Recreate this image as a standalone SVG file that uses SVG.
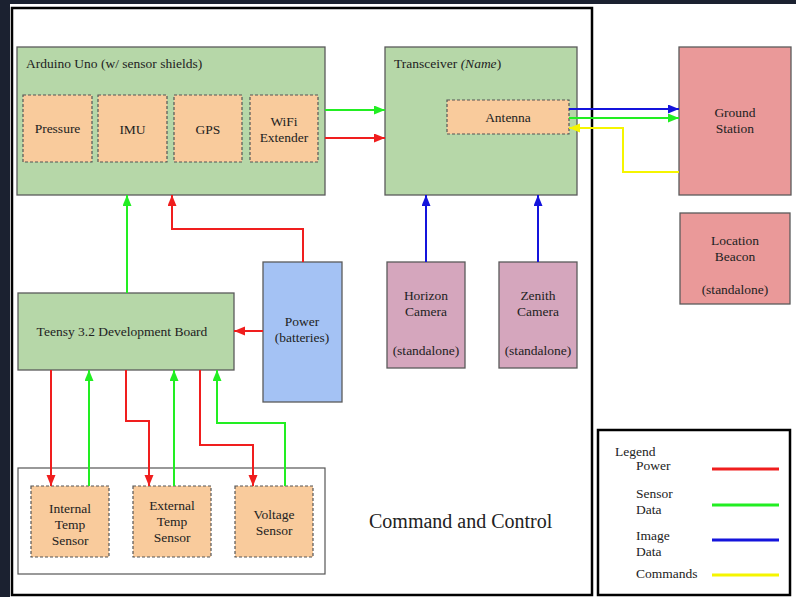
<svg xmlns="http://www.w3.org/2000/svg" width="796" height="597" viewBox="0 0 796 597" font-family="'Liberation Serif','Times New Roman',serif" font-size="13.5">
<style>
text{font-family:"Liberation Serif","Times New Roman",serif;font-size:13.5px;fill:#222;}
.c{text-anchor:middle;}
.node{stroke:#5b5b5b;stroke-width:1.3;}
.grn{fill:#b6d7a8;}
.org{fill:#f9cb9c;stroke:#555;stroke-width:1.2;stroke-dasharray:3,2;}
.pur{fill:#d5a6bd;}
.pink{fill:#ea9999;}
.blu{fill:#a4c2f4;}
.frame{fill:none;stroke:#000;stroke-width:2.5;}
.conn{fill:none;stroke-width:2;}
.r{stroke:#f01e1e;}
.g{stroke:#22ee22;}
.b{stroke:#1414dc;}
.y{stroke:#f5f500;}
.leg{stroke-width:3;}
</style>
<defs>
<marker id="ar" markerUnits="userSpaceOnUse" markerWidth="12" markerHeight="10" refX="11" refY="4.5" orient="auto"><path d="M0,0L11,4.5L0,9z" fill="#f01e1e"/></marker>
<marker id="ag" markerUnits="userSpaceOnUse" markerWidth="12" markerHeight="10" refX="11" refY="4.5" orient="auto"><path d="M0,0L11,4.5L0,9z" fill="#22ee22"/></marker>
<marker id="ab" markerUnits="userSpaceOnUse" markerWidth="12" markerHeight="10" refX="11" refY="4.5" orient="auto"><path d="M0,0L11,4.5L0,9z" fill="#1414dc"/></marker>
<marker id="ay" markerUnits="userSpaceOnUse" markerWidth="12" markerHeight="10" refX="11" refY="4.5" orient="auto"><path d="M0,0L11,4.5L0,9z" fill="#f5f500"/></marker>
</defs>
<rect x="0" y="0" width="796" height="597" fill="#1b2130"/>
<rect x="10" y="4" width="786" height="593" fill="#fff"/>
<rect class="frame" x="12" y="8" width="580" height="587"/>

<g id="arduino">
<rect class="node grn" x="17" y="47" width="308" height="148"/>
<text x="26" y="68">Arduino Uno (w/ sensor shields)</text>
</g>
<g id="pressure"><rect class="org" x="23" y="95" width="69" height="67"/><text class="c" x="57.5" y="133">Pressure</text></g>
<g id="imu"><rect class="org" x="98" y="95" width="69" height="67"/><text class="c" x="132.5" y="134">IMU</text></g>
<g id="gps"><rect class="org" x="174" y="95" width="68" height="67"/><text class="c" x="208" y="134">GPS</text></g>
<g id="wifi"><rect class="org" x="250" y="95" width="68" height="67"/><text class="c" x="284" y="126">WiFi</text><text class="c" x="284" y="142">Extender</text></g>

<g id="transceiver">
<rect class="node grn" x="385" y="47" width="192" height="148"/>
<text x="394" y="68">Transceiver <tspan font-style="italic">(Name</tspan>)</text>
</g>
<g id="antenna"><rect class="org" x="447" y="100" width="122" height="34"/><text class="c" x="508" y="122">Antenna</text></g>

<g id="ground"><rect class="node pink" x="679" y="47" width="112" height="148"/><text class="c" x="735" y="117">Ground</text><text class="c" x="735" y="133">Station</text></g>
<g id="beacon"><rect class="node pink" x="680" y="213" width="110" height="91"/><text class="c" x="735" y="245">Location</text><text class="c" x="735" y="261">Beacon</text><text class="c" x="735" y="294">(standalone)</text></g>

<g id="horizon"><rect class="node pur" x="387" y="262" width="78" height="106"/><text class="c" x="426" y="300">Horizon</text><text class="c" x="426" y="316">Camera</text><text class="c" x="426" y="355">(standalone)</text></g>
<g id="zenith"><rect class="node pur" x="499" y="262" width="78" height="106"/><text class="c" x="538" y="300">Zenith</text><text class="c" x="538" y="316">Camera</text><text class="c" x="538" y="355">(standalone)</text></g>

<g id="teensy"><rect class="node grn" x="18" y="293" width="216" height="77"/><text class="c" x="122" y="336">Teensy 3.2 Development Board</text></g>
<g id="power"><rect class="node blu" x="263" y="262" width="79" height="140"/><text class="c" x="302" y="326">Power</text><text class="c" x="302" y="342">(batteries)</text></g>

<g id="sensors"><rect x="18" y="468" width="307" height="106" fill="#fff" stroke="#555" stroke-width="1.2"/></g>
<g id="internal"><rect class="org" x="31" y="486" width="78" height="71"/><text class="c" x="70" y="513">Internal</text><text class="c" x="70" y="529">Temp</text><text class="c" x="70" y="545">Sensor</text></g>
<g id="external"><rect class="org" x="133" y="486" width="78" height="71"/><text class="c" x="172" y="510">External</text><text class="c" x="172" y="526">Temp</text><text class="c" x="172" y="542">Sensor</text></g>
<g id="voltage"><rect class="org" x="235" y="486" width="78" height="71"/><text class="c" x="274" y="519">Voltage</text><text class="c" x="274" y="535">Sensor</text></g>

<text x="369" y="528" style="font-size:20px">Command and Control</text>

<g id="connectors">
<path class="conn g" d="M325,110H385" marker-end="url(#ag)"/>
<path class="conn r" d="M325,138H385" marker-end="url(#ar)"/>
<path class="conn b" d="M569,109H679" marker-end="url(#ab)"/>
<path class="conn g" d="M569,118H679" marker-end="url(#ag)"/>
<path class="conn y" d="M679,172H623V128H569" marker-end="url(#ay)"/>
<path class="conn b" d="M426,262V195" marker-end="url(#ab)"/>
<path class="conn b" d="M538,262V195" marker-end="url(#ab)"/>
<path class="conn g" d="M127,293V195" marker-end="url(#ag)"/>
<path class="conn r" d="M303,262V229H172V195" marker-end="url(#ar)"/>
<path class="conn r" d="M263,331H234" marker-end="url(#ar)"/>
<path class="conn r" d="M51,370V486" marker-end="url(#ar)"/>
<path class="conn g" d="M89,486V370" marker-end="url(#ag)"/>
<path class="conn r" d="M126,370V421H149V486" marker-end="url(#ar)"/>
<path class="conn g" d="M174,486V370" marker-end="url(#ag)"/>
<path class="conn r" d="M200,370V445H253V486" marker-end="url(#ar)"/>
<path class="conn g" d="M285,486V423H217V370" marker-end="url(#ag)"/>
</g>

<g id="legend">
<rect class="frame" x="598" y="430" width="192" height="165"/>
<text x="615" y="456">Legend</text>
<text x="636" y="470">Power</text>
<text x="636" y="498">Sensor</text><text x="636" y="514">Data</text>
<text x="636" y="540">Image</text><text x="636" y="556">Data</text>
<text x="636" y="578">Commands</text>
<path class="conn leg r" d="M712,469H779"/>
<path class="conn leg g" d="M712,505H779"/>
<path class="conn leg b" d="M712,540H779"/>
<path class="conn leg y" d="M712,575H779"/>
</g>
</svg>
